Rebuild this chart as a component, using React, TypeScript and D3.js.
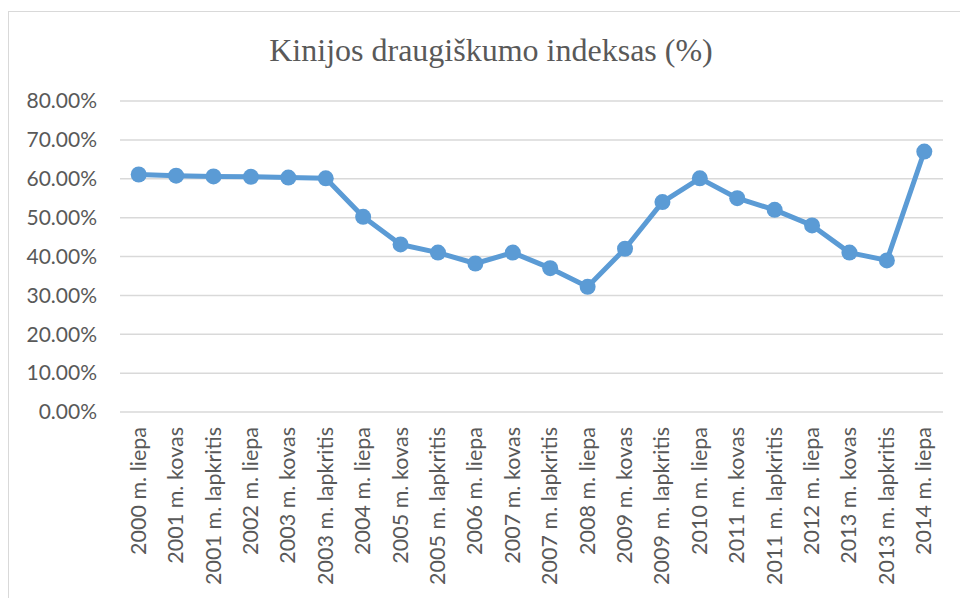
import React from "react";
import * as d3 from "d3";

const categories = [
  "2000 m. liepa", "2001 m. kovas", "2001 m. lapkritis", "2002 m. liepa",
  "2003 m. kovas", "2003 m. lapkritis", "2004 m. liepa", "2005 m. kovas",
  "2005 m. lapkritis", "2006 m. liepa", "2007 m. kovas", "2007 m. lapkritis",
  "2008 m. liepa", "2009 m. kovas", "2009 m. lapkritis", "2010 m. liepa",
  "2011 m. kovas", "2011 m. lapkritis", "2012 m. liepa", "2013 m. kovas",
  "2013 m. lapkritis", "2014 m. liepa",
];
const values = [
  61.1, 60.8, 60.6, 60.5, 60.3, 60.1, 50.2, 43.1, 41, 38.2, 41, 37,
  32.2, 42, 54, 60.1, 55, 52, 48, 41, 39, 67,
];
const yTicks = [0, 10, 20, 30, 40, 50, 60, 70, 80];
const title = "Kinijos draugiškumo indeksas (%)";

export default function App() {
  const W = 960, H = 598;
  const left = 120, right = 943, top = 101, bottom = 412;
  const x = d3.scaleBand<string>().domain(categories).range([left, right]).padding(0);
  const y = d3.scaleLinear().domain([0, 80]).range([bottom, top]);
  const line = d3.line<number>()
    .x((_, i) => (x(categories[i]) as number) + x.bandwidth() / 2)
    .y((d) => y(d));
  const font = "Lato, 'Open Sans', sans-serif";
  return (
    <svg width={W} height={H} style={{ position: "absolute", left: 0, top: 0, background: "#fff" }}>
      <rect x={8.5} y={11.5} width={1000} height={700} fill="#fff" stroke="#d9d9d9" strokeWidth={1} />
      <text x={491} y={61} textAnchor="middle" fontFamily="'Liberation Serif', 'Times New Roman', serif" fontSize={32} fill="#595959">{title}</text>
      {yTicks.map((t) => (
        <g key={t}>
          <line x1={left} x2={right} y1={y(t)} y2={y(t)} stroke="#d9d9d9" strokeWidth={1.5} />
          <text x={97} y={y(t)} dy="0.35em" textAnchor="end" fontFamily={font} fontSize={21} fill="#595959">{t.toFixed(2) + "%"}</text>
        </g>
      ))}
      {categories.map((c) => {
        const cx = (x(c) as number) + x.bandwidth() / 2;
        return (
          <text key={c} transform={`translate(${cx + 7},${427}) rotate(-90)`} textAnchor="end" fontFamily={font} fontSize={21.5} fill="#595959">{c}</text>
        );
      })}
      <path d={line(values) || ""} fill="none" stroke="#5b9bd5" strokeWidth={5} strokeLinejoin="round" />
      {values.map((v, i) => (
        <circle key={i} cx={(x(categories[i]) as number) + x.bandwidth() / 2} cy={y(v)} r={8} fill="#5b9bd5" />
      ))}
    </svg>
  );
}
